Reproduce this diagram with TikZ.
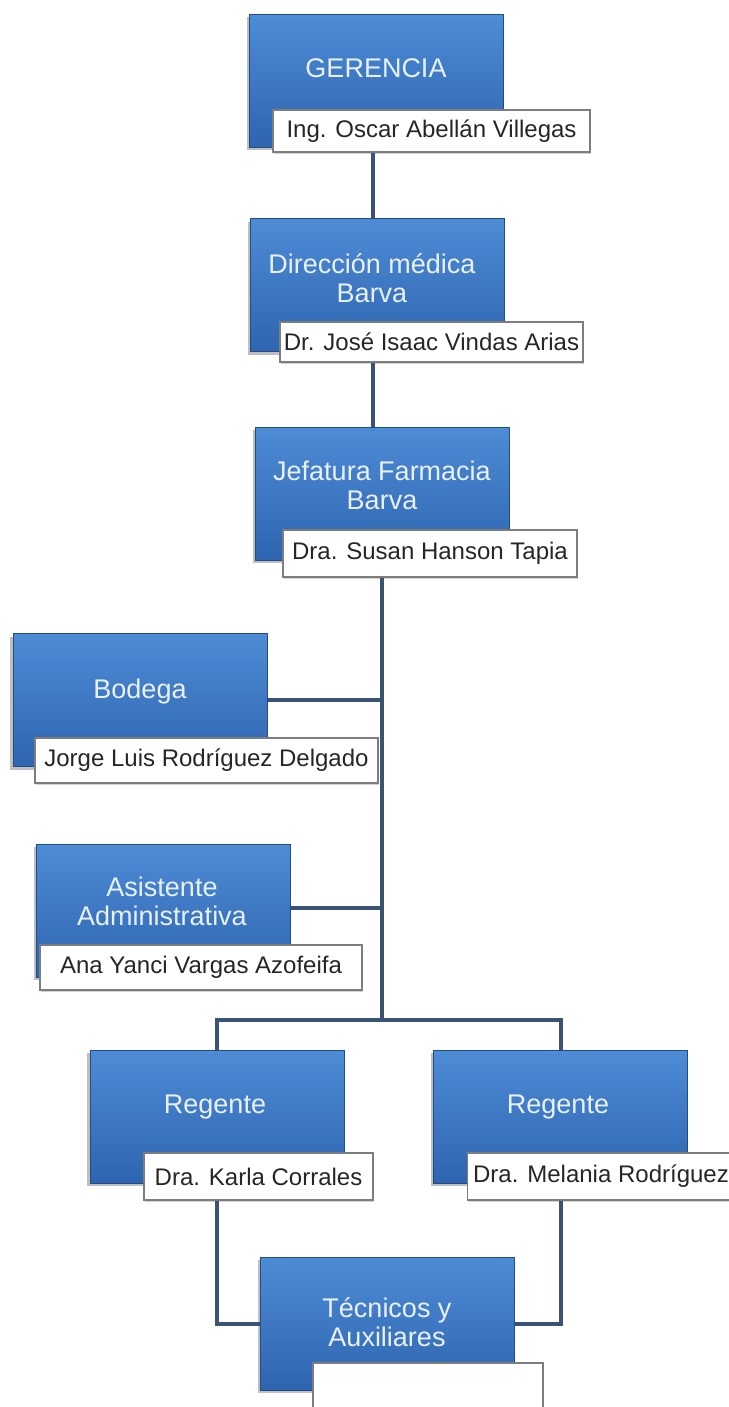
\documentclass[tikz,border=0pt]{standalone}
\usepackage{fontspec}
\setmainfont{Liberation Sans}
\usetikzlibrary{shadows}

\definecolor{boxtop}{RGB}{78,140,214}
\definecolor{boxbot}{RGB}{46,100,176}
\definecolor{boxedge}{RGB}{34,76,136}
\definecolor{boxtext}{RGB}{232,241,251}
\definecolor{wirecol}{RGB}{58,82,116}
\definecolor{tagedge}{RGB}{125,125,125}

\begin{document}
\begin{tikzpicture}[x=1pt,y=-1pt,
  orgbox/.style={rectangle, top color=boxtop, bottom color=boxbot, draw=boxedge, line width=1pt,
    minimum width=254pt, minimum height=133pt,
    drop shadow={shadow xshift=-3pt, shadow yshift=-3pt, opacity=0.5}},
  orgtxt/.style={text=boxtext, font=\fontsize{27}{29}\selectfont, align=center},
  namebox/.style={rectangle, fill=white, draw=tagedge, line width=1.5pt, minimum height=45pt,
    font=\fontsize{24}{26}\selectfont, text=black!85,
    drop shadow={shadow xshift=1pt, shadow yshift=-2pt, opacity=0.35}},
  wire/.style={draw=wirecol, line width=4pt}]
\path[use as bounding box, fill=white] (0,0) rectangle (728,1407);

% upper chain
\node[orgbox] (ger) at (376.5,81) {};
\node[orgtxt] (gert) at (376,68) {GERENCIA};
\node[namebox, minimum width=317pt, minimum height=42pt] (gern) at (431.5,131) {Ing. Oscar Abellán Villegas};

\node[orgbox] (dir) at (377.5,285) {};
\node[orgtxt] (dirt) at (372,278) {Dirección médica\\Barva};
\node[namebox, minimum width=303pt, minimum height=40pt] (dirn) at (431.5,342) {Dr. José Isaac Vindas Arias};

\node[orgbox] (jef) at (382.5,493.5) {};
\node[orgtxt] (jeft) at (382,485) {Jefatura Farmacia\\Barva};
\node[namebox, minimum width=294pt, minimum height=47pt] (jefn) at (430,553.5) {Dra. Susan Hanson Tapia};

% side units
\node[orgbox] (bod) at (140,700) {};
\node[orgtxt] (bodt) at (140,692) {Bodega};
\node[namebox, minimum width=343pt] (bodn) at (206.5,760.5) {Jorge Luis Rodríguez Delgado};

\node[orgbox] (asi) at (163.5,910.5) {};
\node[orgtxt] (asit) at (162,901) {Asistente\\Administrativa};
\node[namebox, minimum width=322pt] (asin) at (201,967.5) {Ana Yanci Vargas Azofeifa};

% regentes
\node[orgbox] (rega) at (217,1116.5) {};
\node[orgtxt] (regat) at (215,1107) {Regente};
\node[namebox, minimum width=229pt, minimum height=47pt] (regan) at (258.5,1176.5) {Dra. Karla Corrales};

\node[orgbox] (regb) at (560.5,1116.5) {};
\node[orgtxt] (regbt) at (558,1107) {Regente};
\node[namebox, minimum width=267pt, minimum height=47pt] (regbn) at (601,1176.5) {Dra. Melania Rodríguez};

\node[orgbox] (tec) at (387.5,1323.5) {};
\node[orgtxt] (tect) at (387,1322) {Técnicos y\\Auxiliares};
\node[namebox, minimum width=230pt, minimum height=52pt] (tecn) at (428,1389) {};

% connectors
\coordinate (axis) at (373,0);
\coordinate (hub) at (382,1020);
\draw[wire] (gern.south -| axis) -- (dir.north -| axis);
\draw[wire] (dirn.south -| axis) -- (jef.north -| axis);
\draw[wire] (jefn.south -| hub) -- (hub);
\draw[wire] (bod.east) -- (bod.east -| hub);
\draw[wire] ([yshift=3pt]asi.east) -- ([yshift=3pt]asi.east -| hub);
\draw[wire] (rega.north) -- (rega.north |- hub) -- (regb.north |- hub) -- (regb.north);
\draw[wire] (regan.south -| rega.north) |- (tec.west);
\draw[wire] (regbn.south -| regb.north) |- (tec.east);
\end{tikzpicture}
\end{document}
